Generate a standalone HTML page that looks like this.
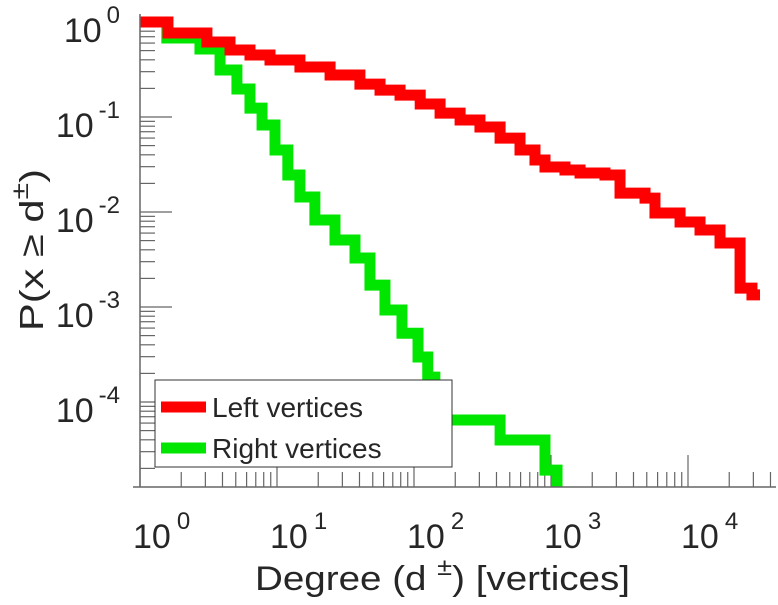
<!DOCTYPE html>
<html><head><meta charset="utf-8"><style>
body{margin:0;background:#fff;}
svg text{font-family:"Liberation Sans",sans-serif;fill:#262626;}
</style></head><body>
<svg id="chart" width="778" height="600" viewBox="0 0 778 600">
<g id="ticks"></g>
<g id="series"></g>
<g id="axes">
<line x1="140" y1="14" x2="140" y2="487" stroke="#666" stroke-width="1.5"/>
<line x1="133" y1="487" x2="776" y2="487" stroke="#666" stroke-width="1.5"/>
</g>
<g id="labels"></g>
<text x="255" y="590" font-size="34" textLength="375" lengthAdjust="spacingAndGlyphs">Degree (d  <tspan dy="-15" font-size="24">±</tspan><tspan dy="15">) [vertices]</tspan></text>
<text transform="translate(43,331) rotate(-90)" font-size="33" textLength="162" lengthAdjust="spacingAndGlyphs">P(x ≥ d<tspan dy="-15" font-size="24">±</tspan><tspan dy="15">)</tspan></text>
<g>
<rect x="155" y="380" width="297" height="87" fill="#fff" stroke="#333" stroke-width="1"/>
<line x1="161" y1="407" x2="206" y2="407" stroke="#ff0000" stroke-width="11"/>
<text x="212" y="417" font-size="28">Left vertices</text>
<line x1="161" y1="448" x2="206" y2="448" stroke="#00e600" stroke-width="11"/>
<text x="212" y="458" font-size="28">Right vertices</text>
</g>
</svg>
<script>
const xTickExps = [0, 1, 2, 3, 4];
const yTickExps = [0, -1, -2, -3, -4];
const leftDegree = [1, 1.6, 3.08, 4.54, 6.35, 8.89, 14.7, 24.4, 40.3, 56.5, 79.1, 111, 155, 217, 303, 425, 594, 764, 904, 1265, 1629, 2478, 3190, 4857, 5740, 8750, 12240, 17130, 23990, 29300, 33550];
const leftProb = [1, 0.766, 0.616, 0.507, 0.45, 0.398, 0.336, 0.277, 0.222, 0.192, 0.17, 0.137, 0.11, 0.093, 0.0785, 0.06, 0.045, 0.0353, 0.0298, 0.0277, 0.0257, 0.0245, 0.0158, 0.014, 0.00976, 0.00785, 0.00647, 0.00472, 0.00158, 0.00134, 0.00134];
const rightDegree = [1, 1.57, 2.74, 3.84, 5.1, 6.35, 7.78, 9.67, 12.0, 14.7, 18.9, 26.5, 37.1, 47.7, 61.4, 81.7, 107, 126, 142, 155, 425, 904, 1107];
const rightProb = [1, 0.679, 0.52, 0.312, 0.197, 0.124, 0.0824, 0.045, 0.0245, 0.0144, 0.00824, 0.00507, 0.00328, 0.0017, 0.00093, 0.00053, 0.000298, 0.000183, 0.000105, 0.0000647, 0.0000398, 0.0000192, 0.00001];

const X0 = 140, XD = 137, Y0 = 22, YD = 95, YBOT = 487, XR = 776;
function xs(d){ return X0 + XD*Math.log10(d); }
function ys(p){ return Math.min(YBOT, Y0 - YD*Math.log10(p)); }
const NS = 'http://www.w3.org/2000/svg';

const tg = document.getElementById('ticks');
const lg = document.getElementById('labels');
for (let e = 0; e >= -5; e--) {
  for (let m = 1; m < 10; m++) {
    const y = ys(m*Math.pow(10, e));
    if (y >= YBOT || y < 14) continue;
    const t = document.createElementNS(NS, 'line');
    
    
    t.setAttribute('x1', X0); t.setAttribute('x2', X0 + (m === 1 ? 32 : 15));
    t.setAttribute('y1', y); t.setAttribute('y2', y);
    t.setAttribute('stroke', '#666'); t.setAttribute('stroke-width', '1.2');
    tg.appendChild(t);
  }
}
for (let e = 0; e <= 4; e++) {
  for (let m = 1; m < 10; m++) {
    const x = xs(m*Math.pow(10, e));
    if (x > XR) continue;
    const t = document.createElementNS(NS, 'line');
    
    
    t.setAttribute('x1', x); t.setAttribute('x2', x);
    t.setAttribute('y1', YBOT); t.setAttribute('y2', YBOT - (m === 1 ? 32 : 15));
    t.setAttribute('stroke', '#666'); t.setAttribute('stroke-width', '1.2');
    tg.appendChild(t);
  }
}
yTickExps.forEach(e => {
  const t = document.createElementNS(NS, 'text');
  
  
  t.setAttribute('x', 120); t.setAttribute('y', ys(Math.pow(10, e)) + 20);
  t.setAttribute('text-anchor', 'end'); t.setAttribute('font-size', '34');
  t.innerHTML = '10<tspan dx="5" dy="-19" font-size="24">' + e + '</tspan>';
  lg.appendChild(t);
});
xTickExps.forEach(e => {
  const t = document.createElementNS(NS, 'text');
  
  
  t.setAttribute('x', xs(Math.pow(10, e)) - 7); t.setAttribute('y', 548);
  t.setAttribute('font-size', '34');
  t.innerHTML = '10<tspan dx="6" dy="-19" font-size="24">' + e + '</tspan>';
  lg.appendChild(t);
});

function stairs(deg, prob, color, name) {
  let d = 'M' + xs(deg[0]) + ' ' + ys(prob[0]);
  for (let i = 1; i < deg.length; i++) {
    d += ' H' + xs(deg[i]) + ' V' + ys(prob[i]);
  }
  const p = document.createElementNS(NS, 'path');
  
  
  p.setAttribute('d', d);
  p.setAttribute('fill', 'none'); p.setAttribute('stroke', color);
  p.setAttribute('stroke-width', '11'); p.setAttribute('stroke-linejoin', 'miter');
  document.getElementById('series').appendChild(p);
}
stairs(rightDegree, rightProb, '#00e600', 'right-vertices-line');
stairs(leftDegree, leftProb, '#ff0000', 'left-vertices-line');
</script>
</body></html>
